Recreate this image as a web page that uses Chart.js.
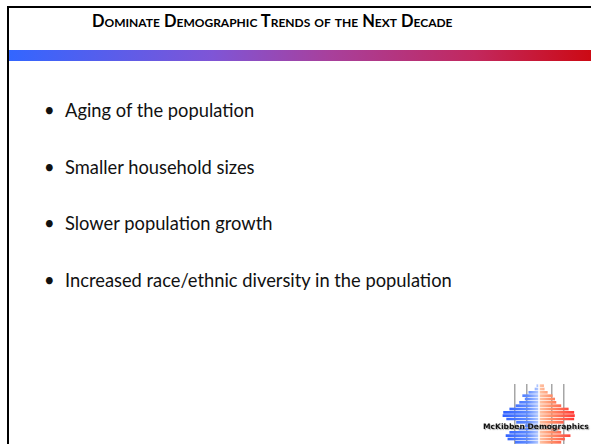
<!DOCTYPE html>
<html>
<head>
<meta charset="utf-8">
<script src="https://cdn.jsdelivr.net/npm/chart.js@4"></script>
<style>
  html, body { margin: 0; padding: 0; background: #fff; }
  #slide { position: relative; width: 591px; height: 444px; overflow: hidden; background: #fff; }
  #frameTop { position: absolute; left: 7px; top: 6px; width: 584px; height: 2px; background: #000; }
  #frameLeft { position: absolute; left: 7px; top: 6px; width: 2px; height: 438px; background: #000; }
  #band { position: absolute; left: 9px; top: 50px; width: 582px; height: 11px;
    background: linear-gradient(to right, #3366ff 0%, #7f55d6 35%, #a8409c 55%, #c2285e 80%, #cc0a14 100%); }
  .txt { position: absolute; white-space: nowrap; color: #111; font-family: Lato, "Open Sans", sans-serif; }
  #title { font-weight: bold; font-variant: small-caps; color: #000; }
  #logo { position: absolute; left: 502px; top: 384px; width: 74px; height: 60px; }
  #logoText { font-family: "DejaVu Sans", sans-serif; font-weight: bold; color: #111;
    text-shadow: 1px 1px 1px #aaa; z-index: 2; }
</style>
</head>
<body>
<div id="slide">
  <div id="frameTop"></div>
  <div id="frameLeft"></div>
  <div id="band"></div>
  <div id="title" class="txt">Dominate Demographic Trends of the Next Decade</div>
  <div id="bullets"></div>
  <div id="logo"><canvas id="pyramid"></canvas></div>
  <div id="logoText" class="txt">McKibben Demographics</div>
</div>
<script>
// slide text
const bulletLines = [
  "Aging of the population",
  "Smaller household sizes",
  "Slower population growth",
  "Increased race/ethnic diversity in the population"
];

// logo pyramid, oldest group first (top row)
const ageGroups = ["85+", "80-84", "75-79", "70-74", "65-69", "60-64", "55-59", "50-54", "45-49",
  "40-44", "35-39", "30-34", "25-29", "20-24", "15-19", "10-14", "5-9", "0-4"];
const malePct = [0.4, 0.7, 1.7, 2.7, 2.3, 3.2, 3.8, 4.8, 5.8, 5.9, 5.3, 3.7, 2.3, 3.3, 4.8, 5.4, 5.1, 3.9];
const femalePct = [0.8, 0.9, 1.4, 2.2, 2.6, 2.8, 3.6, 4.8, 5.7, 5.8, 5.7, 4.0, 1.7, 3.3, 3.6, 5.1, 4.2, 3.6];

// put text at a given left x / baseline y, scaled to a given width
function placeText(el, left, baseline, targetWidth) {
  el.style.fontSize = "20px";
  let w = el.getBoundingClientRect().width;
  let size = 20 * targetWidth / w;
  el.style.fontSize = size + "px";
  const marker = document.createElement("span");
  marker.style.cssText = "display:inline-block;width:0;height:0;vertical-align:baseline";
  el.appendChild(marker);
  const off = marker.offsetTop;
  el.style.left = left + "px";
  el.style.top = (baseline - off) + "px";
  return size;
}

placeText(document.getElementById("title"), 92, 27, 350);

const bulletBox = document.getElementById("bullets");
const baselines = [117, 173.5, 230, 287];
let lines = bulletLines.map(function (t, i) {
  const dot = document.createElement("div");
  dot.className = "txt";
  dot.textContent = "\u2022";
  const line = document.createElement("div");
  line.className = "txt";
  line.textContent = t;
  bulletBox.appendChild(dot);
  bulletBox.appendChild(line);
  return { dot: dot, line: line };
});
// size from the longest line, then use it for all
const sizeEl = lines[3].line;
sizeEl.style.fontSize = "20px";
const fontSize = 20 * 387 / sizeEl.getBoundingClientRect().width;
lines.forEach(function (l, i) {
  [l.dot, l.line].forEach(function (el) {
    el.style.fontSize = fontSize + "px";
    const m = document.createElement("span");
    m.style.cssText = "display:inline-block;width:0;height:0;vertical-align:baseline";
    el.appendChild(m);
    el.style.top = (baselines[i] - m.offsetTop) + "px";
  });
  l.dot.style.left = "44px";
  l.line.style.left = "65px";
});

placeText(document.getElementById("logoText"), 483, 429, 106);

function sideGradient(ctx, male) {
  const chart = ctx.chart;
  const area = chart.chartArea;
  if (!area) return male ? "#3a6bff" : "#ff5a4a";
  const mid = chart.scales.x.getPixelForValue(0);
  const c = chart.ctx;
  if (male) {
    const g = c.createLinearGradient(area.left, 0, mid, 0);
    g.addColorStop(0, "#2b5cff");
    g.addColorStop(0.7, "#5f8bff");
    g.addColorStop(1, "#b9cdff");
    return g;
  }
  const g = c.createLinearGradient(mid, 0, area.right, 0);
  g.addColorStop(0, "#ffc7a8");
  g.addColorStop(0.35, "#ff8c66");
  g.addColorStop(1, "#ff3030");
  return g;
}

new Chart(document.getElementById("pyramid"), {
  type: "bar",
  data: {
    labels: ageGroups,
    datasets: [
      {
        label: "Male",
        data: malePct.map(function (v) { return -v; }),
        backgroundColor: function (ctx) { return sideGradient(ctx, true); },
        barPercentage: 0.8,
        categoryPercentage: 1
      },
      {
        label: "Female",
        data: femalePct,
        backgroundColor: function (ctx) { return sideGradient(ctx, false); },
        barPercentage: 0.8,
        categoryPercentage: 1
      }
    ]
  },
  options: {
    indexAxis: "y",
    responsive: true,
    maintainAspectRatio: false,
    animation: false,
    layout: { padding: 0 },
    plugins: { legend: { display: false }, tooltip: { enabled: false } },
    scales: {
      x: {
        stacked: true,
        min: -6,
        max: 6,
        ticks: { display: false, stepSize: 2 },
        border: { display: false },
        grid: {
          drawTicks: false,
          tickLength: 0,
          lineWidth: 1.5,
          color: function (ctx) {
            const v = Math.abs(ctx.tick.value);
            return (v === 2 || v === 4) ? "#a6a6a6" : "rgba(0,0,0,0)";
          }
        }
      },
      y: {
        stacked: true,
        display: false
      }
    }
  }
});
</script>
</body>
</html>
